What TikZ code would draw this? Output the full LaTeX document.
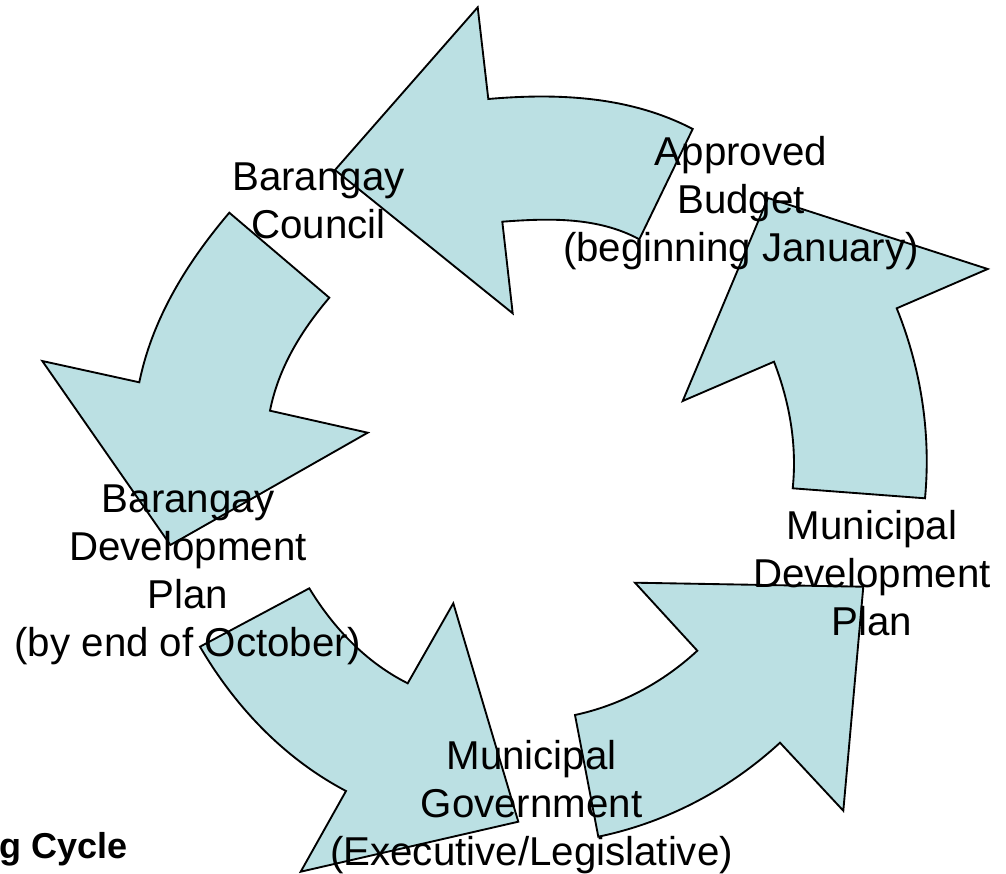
\documentclass[tikz,border=0pt]{standalone}
\usepackage{fontspec}
\setmainfont{Liberation Sans}
\definecolor{arrowfill}{RGB}{187,224,227}
\begin{document}
\begin{tikzpicture}[x=0.75pt,y=-0.75pt,
  arrowshape/.style={fill=arrowfill,draw=black,line width=1.4pt,line join=miter},
  label/.style={align=center,inner sep=0pt,font=\fontsize{30.2}{36}\selectfont},
  title/.style={inner sep=0pt,font=\fontsize{27}{30}\selectfont\bfseries}]
\useasboundingbox (0,0) rectangle (1006,874);
% top arrow (pointing left)
\draw[arrowshape] (488.3,99) .. controls (557.2,93.0) and (629.5,96.0) .. (692.7,129)
  -- (639.3,239.3) .. controls (597.2,216.5) and (547.8,218.3) .. (502.3,221.7)
  -- (512.7,313.3) -- (335,170) -- (477.7,7.3) -- cycle;
% right arrow (pointing up)
\draw[arrowshape] (925,498.3) .. controls (931.1,433.6) and (921.0,368.5) .. (896.7,308.3)
  -- (987.7,269) -- (768,198) -- (682.7,401) -- (774,361.7)
  .. controls (789.6,402.1) and (797.2,445.1) .. (792.7,488.3) -- cycle;
% left arrow (pointing down)
\draw[arrowshape] (139.3,382.3) .. controls (152.4,318.0) and (187.6,261.8) .. (229.3,212.7)
  -- (329.3,297.7) .. controls (301.3,330.6) and (278.4,367.9) .. (270,410.7)
  -- (367.7,432.7) -- (170.4,545) -- (42.3,361) -- cycle;
% bottom-left arrow (pointing right)
\draw[arrowshape] (200,646.7) .. controls (235.0,706.6) and (284.0,758.4) .. (346,791)
  -- (300.7,871.7) -- (518.3,821.7) -- (453.3,603.3) -- (407.7,683.3)
  .. controls (365.9,662.3) and (333.3,627.8) .. (309.3,588.3) -- cycle;
% bottom-right arrow (pointing up-right)
\draw[arrowshape] (575,715) .. controls (620.8,705.1) and (662.9,682.6) .. (697.3,650.7)
  -- (635,582.7) -- (863.3,586.7) -- (843.3,810.7) -- (780,742.7)
  .. controls (728.9,789.7) and (666.3,822.6) .. (598.3,836.7) -- cycle;
% labels
\node[label] (council) at (318.5,201) {Barangay\\Council};
\node[label] (budget) at (741,203) {Approved\\Budget\\(beginning January)};
\node[label] (mdp) at (872,573) {Municipal\\Development\\Plan};
\node[label] (bdp) at (188,574.5) {Barangay\\Development\\Plan\\(by end of October)};
\node[label] (mgov) at (531.5,807) {Municipal\\Government\\(Executive/Legislative)};
\node[title,anchor=base west] (cycle) at (-1,858) {g Cycle};
\end{tikzpicture}
\end{document}
